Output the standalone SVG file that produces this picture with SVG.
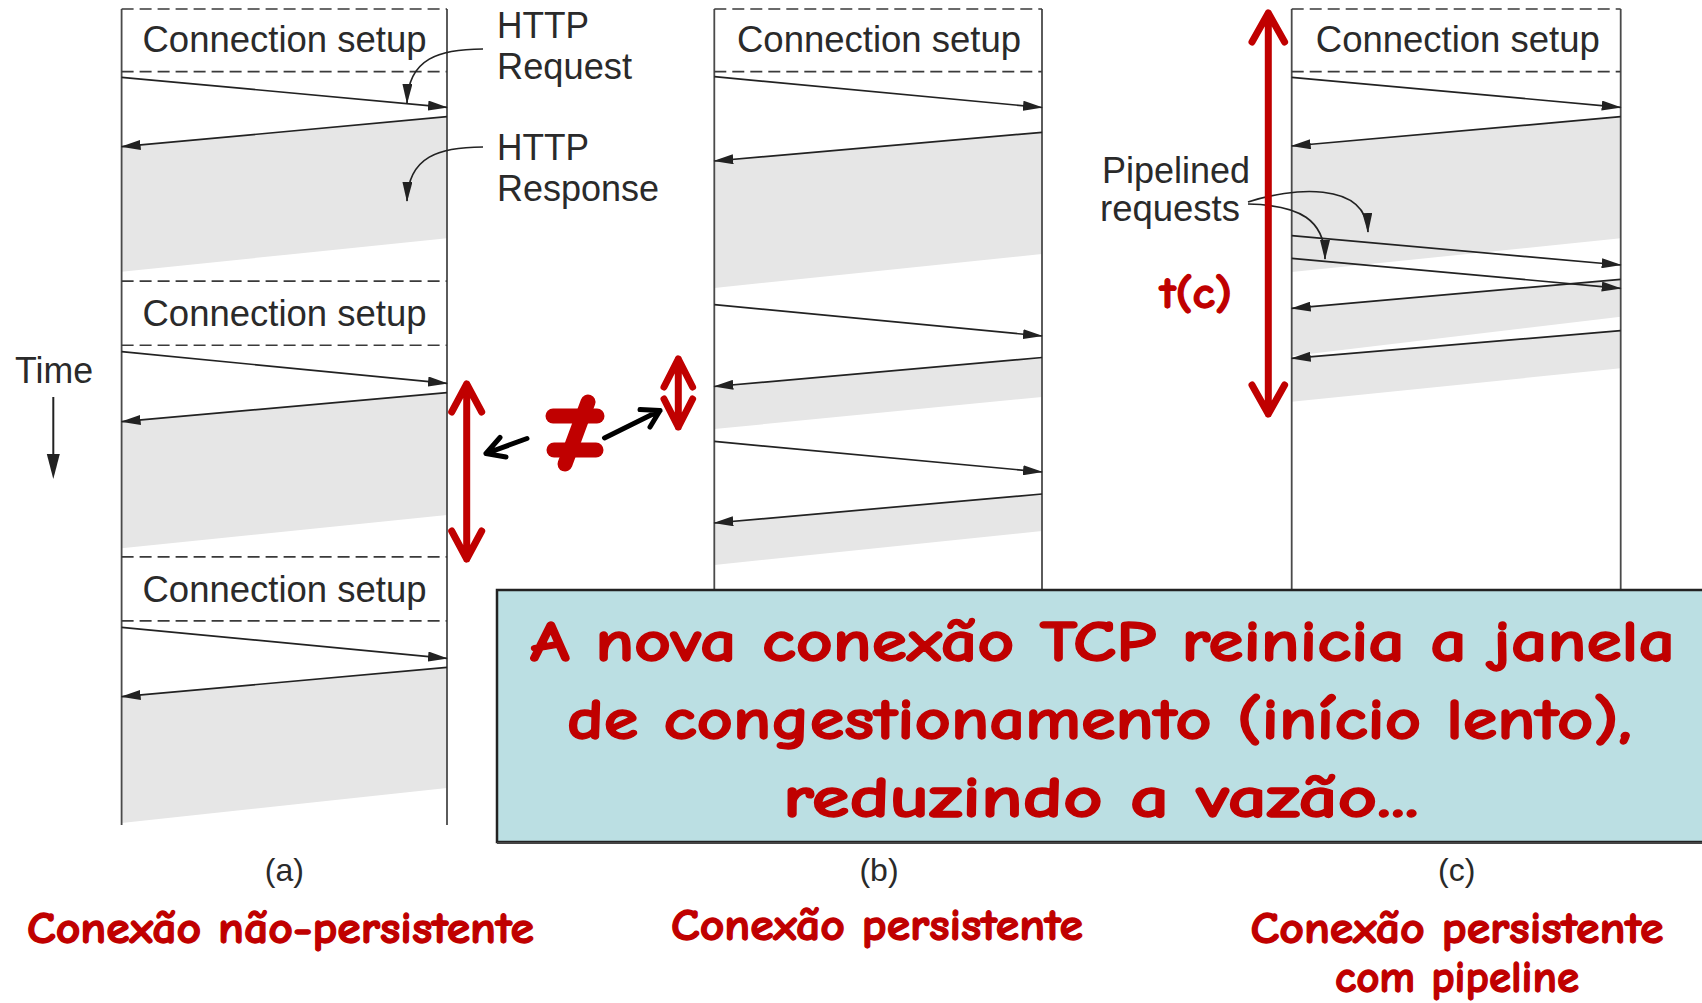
<svg xmlns="http://www.w3.org/2000/svg" width="1702" height="1003" viewBox="0 0 1702 1003">
<style>
.col{stroke:#4a4a4a;stroke-width:1.8;fill:none}
.dash{stroke:#3a3a3a;stroke-width:1.6;stroke-dasharray:12 6;fill:none}
.msg{stroke:#222;stroke-width:1.7;fill:none;marker-end:url(#ah)}
.gray{fill:#e6e6e6;stroke:none}
.lbl{font-family:"Liberation Sans",Arial,Helvetica,sans-serif;font-size:37px;fill:#2a2a2a}
.cap{font-family:"Liberation Sans",Arial,Helvetica,sans-serif;font-size:32px;fill:#2a2a2a}
.red{font-family:"Comic Sans MS","Comic Neue","DejaVu Sans",sans-serif;font-weight:bold;fill:#c00000;stroke:#c00000;stroke-width:1.3;stroke-linejoin:round}
.rarrow{stroke:#c00000;stroke-width:7;fill:none;stroke-linecap:round;stroke-linejoin:round}
.barrow{stroke:#000;stroke-width:5;fill:none;stroke-linecap:round;stroke-linejoin:round}
.ptr{stroke:#222;stroke-width:1.7;fill:none;marker-end:url(#ah)}
</style>
<defs>
<marker id="ah" viewBox="0 0 20 10" refX="19" refY="5" markerWidth="20" markerHeight="10" markerUnits="userSpaceOnUse" orient="auto">
<path d="M0,0 L20,5 L0,10 z" fill="#222"/>
</marker>
</defs>
<rect width="1702" height="1003" fill="#fff"/>

<!-- Column (a) -->
<g id="colA">
<polygon class="gray" points="121.6,146.7 447,116.7 447,238.3 121.6,271.7"/>
<polygon class="gray" points="121.6,421.7 447,392.7 447,515 121.6,548.3"/>
<polygon class="gray" points="121.6,696.7 447,667.3 447,788 121.6,823"/>
<line class="col" x1="121.6" y1="9" x2="121.6" y2="825"/>
<line class="col" x1="447" y1="9" x2="447" y2="825"/>
<line class="dash" x1="121.6" y1="9" x2="447" y2="9"/>
<line class="dash" x1="121.6" y1="71.6" x2="447" y2="71.6"/>
<line class="dash" x1="121.6" y1="281.1" x2="447" y2="281.1"/>
<line class="dash" x1="121.6" y1="345.2" x2="447" y2="345.2"/>
<line class="dash" x1="121.6" y1="556.9" x2="447" y2="556.9"/>
<line class="dash" x1="121.6" y1="620.9" x2="447" y2="620.9"/>
<text class="lbl" x="142.5" y="52" textLength="284" lengthAdjust="spacingAndGlyphs">Connection setup</text>
<text class="lbl" x="142.5" y="325.5" textLength="284" lengthAdjust="spacingAndGlyphs">Connection setup</text>
<text class="lbl" x="142.5" y="601.7" textLength="284" lengthAdjust="spacingAndGlyphs">Connection setup</text>
</g>

<!-- Column (b) -->
<g id="colB">
<polygon class="gray" points="714.3,161 1042,132.3 1042,254 714.3,288"/>
<polygon class="gray" points="714.3,386.5 1042,357.5 1042,397 714.3,429"/>
<polygon class="gray" points="714.3,523 1042,494 1042,531 714.3,565"/>
<line class="col" x1="714.3" y1="9" x2="714.3" y2="590"/>
<line class="col" x1="1042" y1="9" x2="1042" y2="590"/>
<line class="dash" x1="714.3" y1="9" x2="1042" y2="9"/>
<line class="dash" x1="714.3" y1="71.6" x2="1042" y2="71.6"/>
<text class="lbl" x="737" y="52" textLength="284" lengthAdjust="spacingAndGlyphs">Connection setup</text>
</g>

<!-- Column (c) -->
<g id="colC">
<polygon class="gray" points="1291.7,146 1620.7,116.7 1620.7,238.3 1291.7,272"/>
<polygon class="gray" points="1291.7,308.3 1620.7,279.3 1620.7,316.7 1291.7,356"/>
<polygon class="gray" points="1291.7,358.3 1620.7,330.7 1620.7,368.3 1291.7,401.7"/>
<line class="col" x1="1291.7" y1="9" x2="1291.7" y2="590"/>
<line class="col" x1="1620.7" y1="9" x2="1620.7" y2="590"/>
<line class="dash" x1="1291.7" y1="9" x2="1620.7" y2="9"/>
<line class="dash" x1="1291.7" y1="71.6" x2="1620.7" y2="71.6"/>
<text class="lbl" x="1315.8" y="52" textLength="284" lengthAdjust="spacingAndGlyphs">Connection setup</text>
</g>

<!-- Connectors -->
<g id="connectors">
<line class="msg" x1="121.6" y1="77.3" x2="447" y2="107.3"/>
<line class="msg" x1="447" y1="116.7" x2="121.6" y2="146.7"/>
<line class="msg" x1="121.6" y1="351.7" x2="447" y2="383.3"/>
<line class="msg" x1="447" y1="392.7" x2="121.6" y2="421.7"/>
<line class="msg" x1="121.6" y1="627.3" x2="447" y2="658.3"/>
<line class="msg" x1="447" y1="667.3" x2="121.6" y2="696.7"/>

<line class="msg" x1="714.3" y1="76.6" x2="1042" y2="107.5"/>
<line class="msg" x1="1042" y1="132.3" x2="714.3" y2="161"/>
<line class="msg" x1="714.3" y1="304.6" x2="1042" y2="336"/>
<line class="msg" x1="1042" y1="357.5" x2="714.3" y2="386.5"/>
<line class="msg" x1="714.3" y1="441.4" x2="1042" y2="472"/>
<line class="msg" x1="1042" y1="494" x2="714.3" y2="523"/>

<line class="msg" x1="1291.7" y1="77.3" x2="1620.7" y2="107.3"/>
<line class="msg" x1="1620.7" y1="116.7" x2="1291.7" y2="146"/>
<line class="msg" x1="1291.7" y1="235.7" x2="1620.7" y2="265"/>
<line class="msg" x1="1291.7" y1="258.3" x2="1620.7" y2="288.3"/>
<line class="msg" x1="1620.7" y1="279.3" x2="1291.7" y2="308.3"/>
<line class="msg" x1="1620.7" y1="330.7" x2="1291.7" y2="358.3"/>

<path class="ptr" d="M483,49 C440,49 408,58 407,103"/>
<path class="ptr" d="M483,147 C440,147 408,156 407,201"/>
<path class="ptr" d="M1248,202 C1290,188 1366,180 1368,232"/>
<path class="ptr" d="M1248,204 C1300,205 1325,220 1325,259"/>

<line x1="53.3" y1="397" x2="53.3" y2="460" stroke="#222" stroke-width="2"/>
<polygon points="53.3,479 46.8,454 59.8,454" fill="#222"/>

<path class="rarrow" d="M466.7,384 V559 M451.7,412 L466.7,384 L481.7,412 M451.7,531 L466.7,559 L481.7,531"/>
<path class="rarrow" d="M678.3,359 V427 M664,387 L678.3,359 L692.6,387 M664,399 L678.3,427 L692.6,399"/>
<path class="rarrow" d="M1268.3,13 V414 M1252,42 L1268.3,13 L1284.6,42 M1252,385 L1268.3,414 L1284.6,385"/>

<path class="barrow" d="M527,438.5 L486,453.5 M500,437.5 L486,453.5 L506,457"/>
<path class="barrow" d="M604.5,438 L660,410.5 M640,409.5 L660,410.5 L650,427"/>
</g>

<!-- Labels -->
<g id="labels">
<text class="lbl" x="497" y="38" textLength="92" lengthAdjust="spacingAndGlyphs">HTTP</text>
<text class="lbl" x="497" y="79" textLength="135" lengthAdjust="spacingAndGlyphs">Request</text>
<text class="lbl" x="497" y="159.5" textLength="92" lengthAdjust="spacingAndGlyphs">HTTP</text>
<text class="lbl" x="497" y="200.5" textLength="162" lengthAdjust="spacingAndGlyphs">Response</text>
<text class="lbl" x="1102" y="183" textLength="148" lengthAdjust="spacingAndGlyphs">Pipelined</text>
<text class="lbl" x="1100" y="221" textLength="140" lengthAdjust="spacingAndGlyphs">requests</text>
<text class="lbl" x="15" y="383.3" textLength="78" lengthAdjust="spacingAndGlyphs">Time</text>
<text class="red" x="1160" y="308" font-size="44" textLength="72" lengthAdjust="spacingAndGlyphs">t(c)</text>
<text class="cap" x="284.4" y="881" text-anchor="middle">(a)</text>
<text class="cap" x="879" y="881" text-anchor="middle">(b)</text>
<text class="cap" x="1456.7" y="881" text-anchor="middle">(c)</text>
<text class="red" x="27" y="943" font-size="45" textLength="507" lengthAdjust="spacingAndGlyphs">Conexão não-persistente</text>
<text class="red" x="671" y="940" font-size="45" textLength="412" lengthAdjust="spacingAndGlyphs">Conexão persistente</text>
<text class="red" x="1250.5" y="943" font-size="45" textLength="413" lengthAdjust="spacingAndGlyphs">Conexão persistente</text>
<text class="red" x="1335" y="992" font-size="45" textLength="244" lengthAdjust="spacingAndGlyphs">com pipeline</text>
</g>

<!-- Not-equal sign -->
<g id="neq" stroke="#c00000" stroke-width="15" stroke-linecap="round" fill="none">
<line x1="553" y1="416" x2="597" y2="416"/>
<line x1="554" y1="450" x2="596" y2="450"/>
<line x1="588" y1="402" x2="565" y2="464"/>
</g>

<!-- Note box -->
<g id="note">
<rect x="497" y="590" width="1215" height="252" fill="#bbdfe3" stroke="#222" stroke-width="2.5"/>
<line x1="497" y1="843" x2="1702" y2="843" stroke="#444" stroke-width="2"/>
<text class="red" x="530" y="661" font-size="59" textLength="1145" lengthAdjust="spacingAndGlyphs">A nova conexão TCP reinicia a janela</text>
<text class="red" x="567" y="739" font-size="59" textLength="1065" lengthAdjust="spacingAndGlyphs">de congestionamento (início lento),</text>
<text class="red" x="783" y="817" font-size="59" textLength="636" lengthAdjust="spacingAndGlyphs">reduzindo a vazão...</text>
</g>
</svg>
